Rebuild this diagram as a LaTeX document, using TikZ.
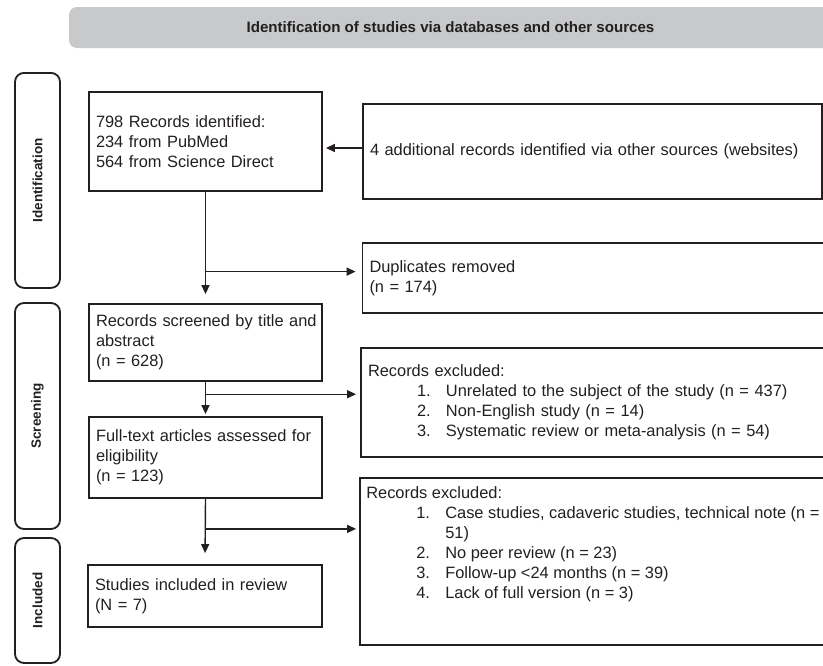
\documentclass[tikz,border=0pt]{standalone}
\usepackage{fontspec}
\setmainfont{Liberation Sans}
\usetikzlibrary{arrows.meta,calc}
\definecolor{bannergray}{RGB}{200,201,203}
\definecolor{inkgray}{RGB}{35,31,32}
\tikzset{
  box/.style={draw=inkgray, line width=1.8pt, align=left, inner xsep=7pt, inner ysep=0pt,
    font=\fontsize{16.4}{20}\selectfont, text=inkgray},
  sidebox/.style={draw=inkgray, fill=white, line width=1.8pt, rounded corners=9pt, rotate=90,
    minimum height=45pt, font=\fontsize{13.5}{16}\selectfont\bfseries, text=inkgray},
  arr/.style={draw=inkgray, line width=1.4pt, -{Triangle[length=9pt,width=8pt]}},
}
\begin{document}
\begin{tikzpicture}[x=1pt,y=-1pt]
\path[use as bounding box, clip] (0,0) rectangle (823,665);
% header
\node[fill=bannergray, rounded corners=8pt, minimum width=763pt, minimum height=41pt,
  font=\fontsize{15.1}{18}\selectfont\bfseries, text=inkgray] (banner) at (450.5,27.5)
  {Identification of studies via databases and other sources};

% phases
\node[sidebox, minimum width=215pt] (pident) at (37.5,180.4) {Identification};
\node[sidebox, minimum width=226pt] (pscreen) at (37.5,416) {Screening};
\node[sidebox, minimum width=125pt] (pincl) at (37.5,600.5) {Included};

% main column
\node[box, text width=219pt, minimum height=99pt] (recid) at (205.5,141.5)
  {798 Records identified:\\234 from PubMed\\564 from Science Direct};
\node[box, text width=219pt, minimum height=77pt] (screen) at (205.5,342.5)
  {\mbox{Records screened by title and}\\abstract\\(n = 628)};
\node[box, text width=219pt, minimum height=81pt] (full) at (205.5,457.5)
  {\mbox{Full-text articles assessed for}\\eligibility\\(n = 123)};
\node[box, text width=220pt, minimum height=62pt] (incl) at (205,596)
  {Studies included in review\\(N = 7)};

% side column
\node[box, text width=445pt, minimum height=95pt] (addl) at (592.5,151.5)
  {4 additional records identified via other sources (websites)};
\node[box, text width=464pt, minimum height=70pt] (dupl) at (601.5,278)
  {Duplicates removed\\(n = 174)};
\node[box, text width=465pt, minimum height=109pt] (exclta) at (600.5,402.5)
  {Records excluded:\\
   \hspace*{49pt}\makebox[29pt][l]{1.}Unrelated to the subject of the study (n = 437)\\
   \hspace*{49pt}\makebox[29pt][l]{2.}Non-English study (n = 14)\\
   \hspace*{49pt}\makebox[29pt][l]{3.}Systematic review or meta-analysis (n = 54)};
\node[box, minimum width=480pt, minimum height=167pt] (excltb) at (600,561.5) {};
\node[align=left, anchor=north west, inner sep=0pt, font=\fontsize{16.4}{20}\selectfont,
  text=inkgray] (excltbtxt) at ($(excltb.north west)+(7,9)$)
  {Records excluded:\\
   \hspace*{50pt}\makebox[29pt][l]{1.}Case studies, cadaveric studies, technical note (n =\\
   \hspace*{79pt}51)\\
   \hspace*{50pt}\makebox[29pt][l]{2.}No peer review (n = 23)\\
   \hspace*{50pt}\makebox[29pt][l]{3.}Follow-up <24 months (n = 39)\\
   \hspace*{50pt}\makebox[29pt][l]{4.}Lack of full version (n = 3)};

% connectors
\coordinate (a0) at ([yshift=3.5pt]addl.west);
\draw[arr, shorten >=3pt] (a0) -- (a0 -| recid.east);

\draw[arr, shorten >=9pt] (recid.south) -- (screen.north);
\coordinate (b1) at ($(recid.south)!0.717!(screen.north)$);
\draw[arr, shorten >=6pt] (b1) -- (b1 -| dupl.west);

\draw[arr, shorten >=2pt] (screen.south) -- (full.north);
\coordinate (b2) at ($(screen.south)!0.36!(full.north)$);
\draw[arr, shorten >=4pt] (b2) -- (b2 -| exclta.west);

\draw[arr, shorten >=11pt] (full.south) -- (incl.north);
\coordinate (b3) at ($(full.south)!0.46!(incl.north)$);
\draw[arr, shorten >=3pt] (b3) -- (b3 -| excltb.west);
\end{tikzpicture}
\end{document}
